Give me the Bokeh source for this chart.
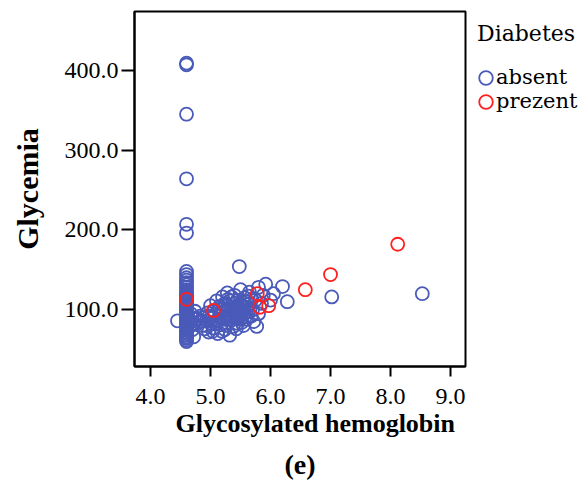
from bokeh.plotting import figure
from bokeh.layouts import row
from bokeh.models import Range1d, FixedTicker, NumeralTickFormatter, Legend, LegendItem, Title
from bokeh.embed import file_html
from bokeh.resources import INLINE

# ---- data ----
absent_hba1c = [
    # column at 4.6
    4.6, 4.6, 4.6, 4.6, 4.6, 4.6,
    4.6, 4.6, 4.6, 4.6, 4.6, 4.6, 4.6, 4.6, 4.6, 4.6, 4.6, 4.6, 4.6, 4.6, 4.6, 4.6, 4.6, 4.6, 4.6, 4.6,
    4.6, 4.6, 4.6, 4.6, 4.6, 4.6, 4.6, 4.6, 4.6, 4.6, 4.6, 4.6, 4.6, 4.6, 4.6, 4.6, 4.6, 4.6, 4.6, 4.6,
    # band and cluster
    4.45, 4.66, 4.67, 4.68, 4.69, 4.70, 4.72, 4.73, 4.74, 4.76, 4.79, 4.80, 4.83, 4.84, 4.86, 4.88,
    4.90, 4.92, 4.93, 4.95, 4.97, 4.98, 5.00, 5.00, 5.02, 5.04, 5.05, 5.06, 5.07, 5.08, 5.10, 5.10,
    5.12, 5.12, 5.14, 5.15, 5.15, 5.17, 5.18, 5.19, 5.20, 5.20, 5.22, 5.22, 5.24, 5.24, 5.25, 5.26,
    5.26, 5.27, 5.28, 5.28, 5.29, 5.30, 5.30, 5.31, 5.32, 5.33, 5.34, 5.35, 5.35, 5.36, 5.36, 5.38,
    5.38, 5.40, 5.40, 5.41, 5.42, 5.42, 5.43, 5.43, 5.44, 5.45, 5.45, 5.46, 5.47, 5.48, 5.49, 5.50,
    5.50, 5.50, 5.51, 5.52, 5.52, 5.53, 5.55, 5.55, 5.56, 5.57, 5.58, 5.60, 5.60, 5.61, 5.62, 5.63,
    5.65, 5.65, 5.66, 5.68, 5.69, 5.70, 5.72, 5.75, 5.77, 5.80, 5.80, 5.85, 5.88, 5.92, 6.00, 6.05,
    6.20, 6.28, 7.02, 8.53,
]
absent_glycemia = [
    409, 407, 345, 264, 207, 196,
    148, 144, 140, 137, 134, 131, 128, 125, 122, 120, 118, 116, 114, 112, 110, 108, 106, 104, 102, 100,
    98, 96, 94, 92, 90, 88, 86, 84, 82, 80, 78, 76, 74, 72, 70, 68, 66, 64, 62, 60,
    86, 86, 95, 80, 90, 75, 66, 83, 98, 88, 89, 84, 92, 86, 80, 90,
    76, 80, 86, 96, 72, 92, 83, 105, 90, 73, 77, 98, 94, 82, 86, 111,
    70, 86, 100, 92, 104, 81, 95, 73, 88, 116, 97, 90, 75, 108, 106, 99,
    80, 84, 121, 93, 113, 92, 100, 88, 68, 111, 102, 87, 116, 96, 91, 79,
    97, 104, 118, 94, 90, 108, 99, 76, 101, 83, 112, 89, 95, 154, 98, 88,
    107, 125, 93, 100, 84, 104, 80, 94, 99, 115, 91, 103, 88, 110, 97, 117,
    108, 122, 101, 92, 113, 100, 85, 112, 79, 128, 95, 108, 118, 132, 112, 120,
    129, 110, 116, 120,
]
prezent_hba1c = [4.6, 5.05, 5.78, 5.82, 5.97, 6.58, 7.0, 8.12]
prezent_glycemia = [113, 99, 120, 103, 105, 125, 144, 182]

x_ticks = [4, 5, 6, 7, 8, 9]
y_ticks = [100, 200, 300, 400]
groups = ["absent", "prezent"]
legend_title = "Diabetes"
x_title = "Glycosylated hemoglobin"
y_title = "Glycemia"
panel_tag = "(e)"

BLUE = "#4a5ab9"
RED = "#ff2020"
SERIF = "Liberation Serif"
LEGEND_FONT = "DejaVu Serif"
NAN = float("nan")

p = figure(width=467, height=491, output_backend="svg", toolbar_location=None,
           x_range=Range1d(3.733, 9.25), y_range=Range1d(28.75, 473.75),
           min_border_left=134, min_border_right=2, min_border_top=10,
           min_border_bottom=125)
p.background_fill_color = "white"
p.border_fill_color = "white"
p.outline_line_color = "black"
p.outline_line_width = 2
p.xgrid.grid_line_color = None
p.ygrid.grid_line_color = None

p.scatter(absent_hba1c, absent_glycemia, marker="circle", size=13,
          fill_color=None, line_color=BLUE, line_width=1.8)
p.scatter(prezent_hba1c, prezent_glycemia, marker="circle", size=13,
          fill_color=None, line_color=RED, line_width=1.8)

for ax in (p.xaxis[0], p.yaxis[0]):
    ax.axis_line_color = "black"
    ax.axis_line_width = 2
    ax.major_tick_line_color = "black"
    ax.major_tick_line_width = 2
    ax.major_tick_in = 0
    ax.minor_tick_line_color = None
    ax.major_label_text_font = SERIF
    ax.major_label_text_font_size = "24px"
    ax.major_label_text_color = "black"
    ax.axis_label_text_font = SERIF
    ax.axis_label_text_font_style = "bold"
    ax.axis_label_text_color = "black"
    ax.formatter = NumeralTickFormatter(format="0.0")

p.xaxis.ticker = FixedTicker(ticks=x_ticks)
p.yaxis.ticker = FixedTicker(ticks=y_ticks)
p.xaxis.major_tick_out = 10
p.yaxis.major_tick_out = 13
p.xaxis.major_label_standoff = 12
p.yaxis.major_label_standoff = 3
p.yaxis.axis_label = y_title
p.yaxis.axis_label_text_font_size = "30px"
p.yaxis.axis_label_standoff = 18

t_x = Title(text=x_title, align="left", offset=41, standoff=4, vertical_align="top",
            text_font=SERIF, text_font_size="26px", text_font_style="bold",
            text_color="black")
t_e = Title(text=panel_tag, align="center", offset=0, standoff=11, vertical_align="bottom",
            text_font=SERIF, text_font_size="28px", text_font_style="bold",
            text_color="black")
p.add_layout(t_x, "below")
p.add_layout(t_e, "below")

# legend panel to the right of the plot
lg = figure(width=117, height=491, output_backend="svg", toolbar_location=None,
            x_range=Range1d(0, 1), y_range=Range1d(0, 1),
            x_axis_type=None, y_axis_type=None, min_border=0, min_border_top=11)
lg.outline_line_color = None
lg.grid.visible = False
lg.background_fill_color = "white"
lg.border_fill_color = "white"
ra = lg.ellipse(x=[NAN], y=[NAN], width=13, height=13, width_units="screen",
                height_units="screen", fill_color=None, line_color=BLUE, line_width=1.8)
rp = lg.ellipse(x=[NAN], y=[NAN], width=13, height=13, width_units="screen",
                height_units="screen", fill_color=None, line_color=RED, line_width=1.8)

legend = Legend(items=[LegendItem(label=groups[0], renderers=[ra], index=0),
                       LegendItem(label=groups[1], renderers=[rp], index=0)],
                title=legend_title, location="top_left")
legend.title_text_font = LEGEND_FONT
legend.title_text_font_size = "22px"
legend.title_text_font_style = "normal"
legend.title_text_color = "black"
legend.label_text_font = LEGEND_FONT
legend.label_text_font_size = "21px"
legend.label_text_color = "black"
legend.glyph_width = 17
legend.glyph_height = 17
legend.label_standoff = 2
legend.spacing = 0
legend.title_standoff = 19
legend.margin = 10
legend.padding = 10
legend.border_line_color = None
legend.background_fill_alpha = 0
lg.add_layout(legend, "left")

layout = row(p, lg, spacing=0)
open("out.html", "w").write(file_html(layout, INLINE))
